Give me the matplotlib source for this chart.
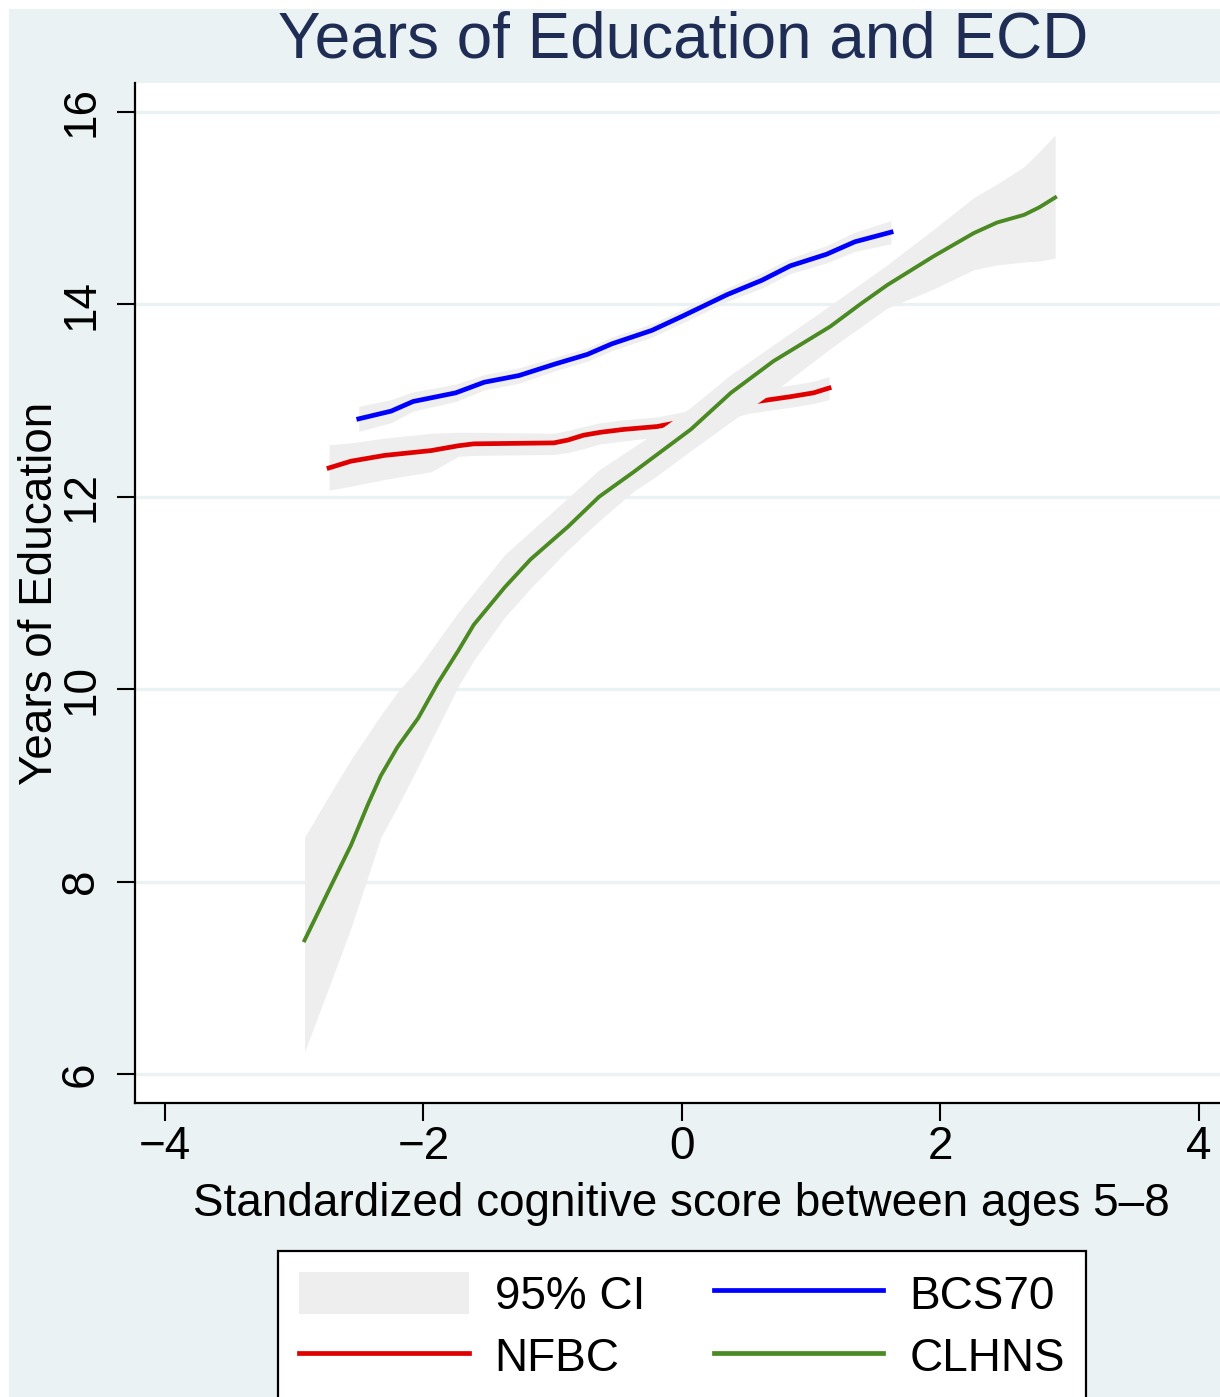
import numpy as np
import matplotlib
matplotlib.use("Agg")
import matplotlib.pyplot as plt
from matplotlib.patches import Rectangle, Patch
from matplotlib.lines import Line2D

plt.rcParams['font.family'] = ['Liberation Sans', 'DejaVu Sans']

# BCS70
bcs_x = [-2.50, -2.25, -2.08, -1.75, -1.53, -1.26, -0.98, -0.73, -0.54, -0.23,
         0.01, 0.35, 0.62, 0.84, 1.12, 1.34, 1.62]
bcs_y = [12.81, 12.89, 12.99, 13.08, 13.19, 13.26, 13.38, 13.48, 13.59, 13.73,
         13.88, 14.10, 14.25, 14.40, 14.52, 14.65, 14.75]
bcs_lo = [12.68, 12.77, 12.89, 12.99, 13.11, 13.18, 13.31, 13.41, 13.52, 13.66,
          13.81, 14.03, 14.17, 14.32, 14.43, 14.55, 14.63]
bcs_hi = [12.94, 13.01, 13.09, 13.17, 13.27, 13.34, 13.45, 13.55, 13.66, 13.80,
          13.95, 14.17, 14.33, 14.48, 14.61, 14.75, 14.87]

# NFBC
nfbc_x = [-2.73, -2.56, -2.30, -1.94, -1.73, -1.61, -0.99, -0.88, -0.76, -0.63,
          -0.45, -0.19, 0.15, 0.35, 0.53, 0.84, 1.02, 1.14]
nfbc_y = [12.30, 12.37, 12.43, 12.48, 12.53, 12.55, 12.56, 12.59, 12.64, 12.67,
          12.70, 12.73, 12.82, 12.93, 12.98, 13.04, 13.08, 13.13]
nfbc_lo = [12.07, 12.11, 12.18, 12.26, 12.42, 12.43, 12.44, 12.46, 12.50, 12.55,
           12.58, 12.62, 12.70, 12.81, 12.87, 12.93, 12.97, 13.01]
nfbc_hi = [12.54, 12.56, 12.61, 12.66, 12.67, 12.67, 12.66, 12.69, 12.73, 12.77,
           12.80, 12.83, 12.92, 13.03, 13.10, 13.16, 13.20, 13.25]

# CLHNS
cl_x = [-2.92, -2.71, -2.56, -2.43, -2.33, -2.20, -2.04, -1.89, -1.73, -1.61,
        -1.37, -1.17, -0.88, -0.64, -0.37, -0.19, 0.07, 0.38, 0.71, 1.15,
        1.38, 1.59, 1.95, 2.26, 2.44, 2.65, 2.77, 2.89]
cl_y = [7.39, 7.97, 8.38, 8.80, 9.10, 9.40, 9.70, 10.06, 10.40, 10.67,
        11.06, 11.35, 11.69, 12.00, 12.26, 12.44, 12.70, 13.08, 13.41, 13.77,
        14.00, 14.20, 14.50, 14.74, 14.85, 14.93, 15.01, 15.11]
cl_lo = [6.23, 6.98, 7.52, 8.05, 8.46, 8.78, 9.20, 9.60, 10.03, 10.30,
         10.75, 11.05, 11.45, 11.75, 12.06, 12.22, 12.48, 12.78, 13.09, 13.54,
         13.76, 13.96, 14.16, 14.36, 14.41, 14.44, 14.45, 14.48]
cl_hi = [8.46, 8.94, 9.27, 9.53, 9.73, 9.97, 10.22, 10.50, 10.80, 11.00,
         11.40, 11.64, 11.99, 12.28, 12.52, 12.68, 12.93, 13.27, 13.58, 13.99,
         14.21, 14.41, 14.78, 15.11, 15.25, 15.43, 15.59, 15.76]

x_ticks = [-4, -2, 0, 2, 4]
y_ticks = [6, 8, 10, 12, 14, 16]

bg = '#EAF2F3'
ci_col = '#EEEEEE'
W, H = 1220, 1397

fig = plt.figure(figsize=(W / 100, H / 100), dpi=100, facecolor='white')
fig.patches.append(Rectangle((9 / W, 0), 1, 1 - 9 / H, transform=fig.transFigure,
                             facecolor=bg, edgecolor='none', zorder=-10))

ax = fig.add_axes([135 / W, 1 - 1103 / H, 1092 / W, 1020 / H])
ax.set_facecolor('white')

ax.fill_between(bcs_x, bcs_lo, bcs_hi, color=ci_col, lw=0, zorder=1)
ax.plot(bcs_x, bcs_y, color='#0000FF', lw=3.4, zorder=2)
ax.fill_between(nfbc_x, nfbc_lo, nfbc_hi, color=ci_col, lw=0, zorder=1)
ax.plot(nfbc_x, nfbc_y, color='#E00000', lw=3.4, zorder=2)
ax.fill_between(cl_x, cl_lo, cl_hi, color=ci_col, lw=0, zorder=3)
ax.plot(cl_x, cl_y, color='#4B8A22', lw=2.8, zorder=4)

ax.set_xlim(-4.232, 4.22)
ax.set_ylim(5.70, 16.30)
ax.set_xticks(x_ticks)
ax.set_yticks(y_ticks)
ax.grid(axis='y', color=bg, lw=2.4, zorder=0)
ax.set_axisbelow(True)

for s in ['top', 'right']:
    ax.spines[s].set_visible(False)
for s in ['left', 'bottom']:
    ax.spines[s].set_linewidth(1.6)
    ax.spines[s].set_color('black')

ax.tick_params(axis='both', length=13, width=1.5, labelsize=33, colors='black')
ax.tick_params(axis='x', pad=3)
ax.tick_params(axis='y', pad=10, labelrotation=90)
for lab in ax.get_yticklabels():
    lab.set_va('center')

ax.set_xlabel('Standardized cognitive score between ages 5\u20138', fontsize=33, labelpad=9)
ax.set_ylabel('Years of Education', fontsize=33, labelpad=-2)

fig.text(683 / W, 1 - 58 / H, 'Years of Education and ECD', fontsize=46,
         color='#1F2D55', ha='center', va='baseline')

handles = [Patch(facecolor=ci_col, edgecolor='none'),
           Line2D([], [], color='#E00000', lw=3.4),
           Line2D([], [], color='#0000FF', lw=3.4),
           Line2D([], [], color='#4B8A22', lw=3.4)]
labels = ['95% CI', 'NFBC', 'BCS70', 'CLHNS']
leg = fig.legend(handles, labels, loc='upper center', bbox_to_anchor=(682 / W, 1 - 1251 / H),
                 borderaxespad=0, ncol=2, fontsize=33, frameon=True, fancybox=False,
                 framealpha=1, handlelength=3.7, handleheight=1.05, handletextpad=0.57,
                 columnspacing=1.5, labelspacing=0.35, borderpad=0.45)
leg.get_frame().set_edgecolor('black')
leg.get_frame().set_linewidth(1.6)
leg.get_frame().set_facecolor('white')

fig.savefig('out.png', dpi=100, facecolor=fig.get_facecolor())
